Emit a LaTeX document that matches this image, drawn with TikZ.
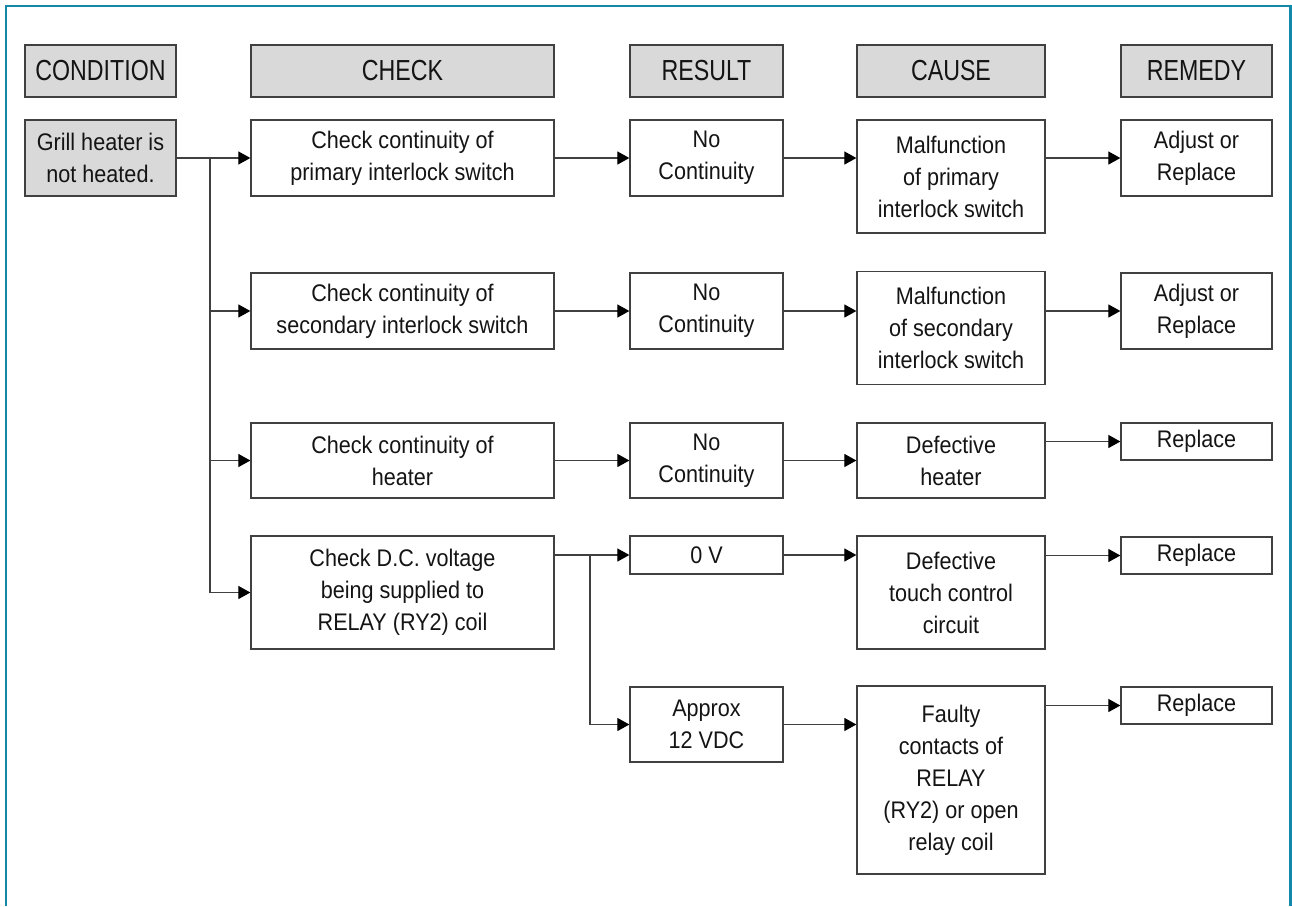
\documentclass[tikz,border=0pt]{standalone}
\usepackage{fontspec}
\setmainfont{Liberation Sans}
\newfontfamily\hdrfont[FakeStretch=0.8]{Liberation Sans}
\newfontfamily\bodyfont[FakeStretch=0.9]{Liberation Sans}
\usetikzlibrary{arrows.meta}
\definecolor{frameteal}{RGB}{18,136,170}
\definecolor{linegray}{RGB}{64,64,64}
\definecolor{hdrgray}{RGB}{217,217,217}
\definecolor{txt}{RGB}{20,20,20}
\tikzset{
  box/.style={draw=linegray, line width=1.3pt, inner sep=0pt, align=center, text=txt,
    font=\bodyfont\fontsize{24}{32}\selectfont},
  hdr/.style={box, fill=hdrgray, font=\hdrfont\fontsize{29}{34}\selectfont},
  cond/.style={box, fill=hdrgray},
  wire/.style={draw=linegray, line width=1.2pt},
  arr/.style={wire, -{Triangle[length=12pt,width=13pt,color=black]}},
  frame/.style={draw=frameteal, line width=2.5pt}
}
\begin{document}
\begin{tikzpicture}[x=1pt,y=-1pt]
\useasboundingbox (0,0) rectangle (1292,906);
\draw[frame] (6,906) -- (6,6) -- (1290.5,6) -- (1290.5,906);

% headers
\node[hdr, minimum width=151pt, minimum height=52pt] (hcond) at (100.5,71) {CONDITION};
\node[hdr, minimum width=303pt, minimum height=52pt] (hcheck) at (402.5,71) {CHECK};
\node[hdr, minimum width=153pt, minimum height=52pt] (hres) at (706.5,71) {RESULT};
\node[hdr, minimum width=188pt, minimum height=52pt] (hcause) at (951,71) {CAUSE};
\node[hdr, minimum width=151pt, minimum height=52pt] (hrem) at (1196.5,71) {REMEDY};

% condition
\node[cond, minimum width=151pt, minimum height=76pt] (grill) at (100.5,158) {Grill heater is\\not heated.};

% row 1
\node[box, minimum width=303pt, minimum height=76pt] (c1) at (402.5,158) {Check continuity of\\primary interlock switch};
\node[box, minimum width=153pt, minimum height=76pt] (r1) at (706.5,158) {No\\Continuity};
\node[box, minimum width=188pt, minimum height=113pt] (ca1) at (951,176.5) {Malfunction\\of primary\\interlock switch};
\node[box, minimum width=151pt, minimum height=76pt] (m1) at (1196.5,158) {Adjust or\\Replace};

% row 2
\node[box, minimum width=303pt, minimum height=76pt] (c2) at (402.5,311) {Check continuity of\\secondary interlock switch};
\node[box, minimum width=153pt, minimum height=76pt] (r2) at (706.5,311) {No\\Continuity};
\node[box, minimum width=188pt, minimum height=113pt] (ca2) at (951,328) {Malfunction\\of secondary\\interlock switch};
\node[box, minimum width=151pt, minimum height=76pt] (m2) at (1196.5,311) {Adjust or\\Replace};

% row 3
\node[box, minimum width=303pt, minimum height=75pt] (c3) at (402.5,460.5) {Check continuity of\\heater};
\node[box, minimum width=153pt, minimum height=75pt] (r3) at (706.5,460.5) {No\\Continuity};
\node[box, minimum width=188pt, minimum height=75pt] (ca3) at (951,460.5) {Defective\\heater};
\node[box, minimum width=151pt, minimum height=37pt] (m3) at (1196.5,441.5) {Replace};

% row 4
\node[box, minimum width=303pt, minimum height=113pt] (c4) at (402.5,592.5) {Check D.C. voltage\\being supplied to\\RELAY (RY2) coil};
\node[box, minimum width=153pt, minimum height=38pt] (r4) at (706.5,555) {0 V};
\node[box, minimum width=188pt, minimum height=113pt] (ca4) at (951,592.5) {Defective\\touch control\\circuit};
\node[box, minimum width=151pt, minimum height=37pt] (m4) at (1196.5,555.5) {Replace};

% row 5
\node[box, minimum width=153pt, minimum height=75pt] (r5) at (706.5,724.5) {Approx\\12 VDC};
\node[box, minimum width=188pt, minimum height=188pt] (ca5) at (951,780) {Faulty\\contacts of\\RELAY\\(RY2) or open\\relay coil};
\node[box, minimum width=151pt, minimum height=37pt] (m5) at (1196.5,705.5) {Replace};

% trunk from condition
\coordinate (tr) at (210,0);
\draw[arr] (grill.east) -- (c1.west);
\draw[wire] (tr |- grill.east) -- (tr |- c4.west);
\draw[arr] (tr |- c2.west) -- (c2.west);
\draw[arr] (tr |- c3.west) -- (c3.west);
\draw[arr] (tr |- c4.west) -- (c4.west);

% check -> result
\draw[arr] (c1.east) -- (r1.west);
\draw[arr] (c2.east) -- (r2.west);
\draw[arr] (c3.east) -- (r3.west);
\coordinate (tr2) at (590,0);
\draw[arr] (c4.east |- r4.west) -- (r4.west);
\draw[wire] (tr2 |- r4.west) -- (tr2 |- r5.west);
\draw[arr] (tr2 |- r5.west) -- (r5.west);

% result -> cause
\draw[arr] (r1.east) -- (r1.east -| ca1.west);
\draw[arr] (r2.east) -- (r2.east -| ca2.west);
\draw[arr] (r3.east) -- (r3.east -| ca3.west);
\draw[arr] (r4.east) -- (r4.east -| ca4.west);
\draw[arr] (r5.east) -- (r5.east -| ca5.west);

% cause -> remedy
\draw[arr] (ca1.east |- m1.west) -- (m1.west);
\draw[arr] (ca2.east |- m2.west) -- (m2.west);
\draw[arr] (ca3.east |- m3.west) -- (m3.west);
\draw[arr] (ca4.east |- m4.west) -- (m4.west);
\draw[arr] (ca5.east |- m5.west) -- (m5.west);
\end{tikzpicture}
\end{document}
